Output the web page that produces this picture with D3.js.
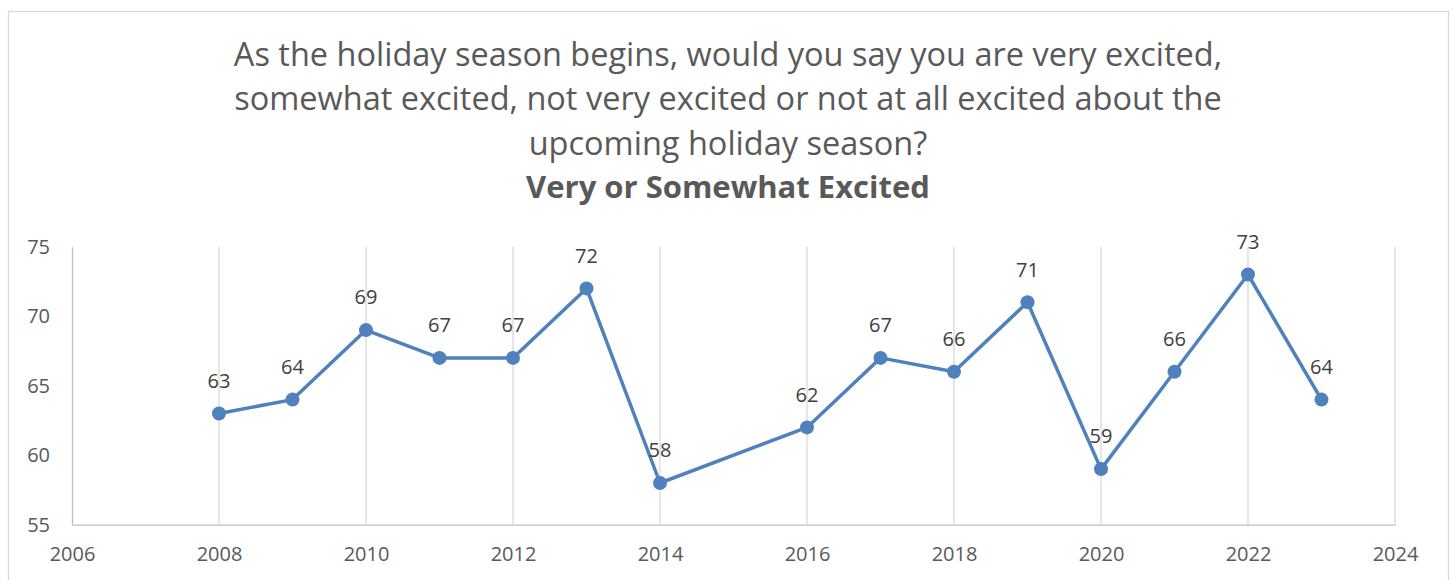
<!DOCTYPE html>
<html>
<head>
<meta charset="utf-8">
<script src="https://cdn.jsdelivr.net/npm/d3@7"></script>
<style>
  body { margin: 0; background: #fff; }
  svg { display: block; }
</style>
</head>
<body>
<div id="chart"></div>
<script>
var years = [2008, 2009, 2010, 2011, 2012, 2013, 2014, 2016, 2017, 2018, 2019, 2020, 2021, 2022, 2023];
var excited = [63, 64, 69, 67, 67, 72, 58, 62, 67, 66, 71, 59, 66, 73, 64];
var xTicks = [2006, 2008, 2010, 2012, 2014, 2016, 2018, 2020, 2022, 2024];
var yTicks = [55, 60, 65, 70, 75];
var titleLines = [
    "As the holiday season begins, would you say you are very excited,",
    "somewhat excited, not very excited or not at all excited about the",
    "upcoming holiday season?"
];
var subtitle = "Very or Somewhat Excited";

const width = 1453, height = 580;
const font = "'Open Sans', 'Noto Sans', sans-serif";
const margin = {top: 246.7, left: 72, right: 58, bottom: 55.3};

var svg = d3.select('#chart').append('svg')
    .attr('width', width)
    .attr('height', height);

// chart border
svg.append('rect')
    .attr('x', 8.5).attr('y', 11.5)
    .attr('width', 1440).attr('height', 600)
    .attr('fill', 'none')
    .attr('stroke', '#d9d9d9')
    .attr('stroke-width', 1.3);

// title
titleLines.forEach(function(t, i){
    svg.append('text')
        .attr('x', 728)
        .attr('y', 57 + 44.5*i)
        .attr('text-anchor', 'middle')
        .attr('dominant-baseline', 'middle')
        .attr('font-family', font)
        .attr('font-size', '32.5px')
        .attr('fill', '#595959')
        .text(t);
});
svg.append('text')
    .attr('x', 728)
    .attr('y', 190)
    .attr('text-anchor', 'middle')
    .attr('dominant-baseline', 'middle')
    .attr('font-family', font)
    .attr('font-size', '31px')
    .attr('font-weight', 'bold')
    .attr('fill', '#595959')
    .text(subtitle);

const x = d3.scaleLinear().domain([2006, 2024]).range([margin.left, width - margin.right]);
const y = d3.scaleLinear().domain([55, 75]).range([height - margin.bottom, margin.top]);

// vertical gridlines
svg.append('g').selectAll('line')
    .data(xTicks.slice(1))
    .enter().append('line')
    .attr('x1', d => x(d)).attr('x2', d => x(d))
    .attr('y1', y(75)).attr('y2', y(55))
    .attr('stroke', '#d9d9d9')
    .attr('stroke-width', 1.3);

// axes
var xAxis = svg.append('g')
    .attr('transform', 'translate(0,' + y(55) + ')')
    .call(d3.axisBottom(x).tickValues(xTicks).tickFormat(d3.format('d')).tickSize(0).tickPadding(22));
var yAxis = svg.append('g')
    .attr('transform', 'translate(' + x(2006) + ',0)')
    .call(d3.axisLeft(y).tickValues(yTicks).tickSize(0).tickPadding(22));

[xAxis, yAxis].forEach(function(a){
    a.select('.domain').attr('stroke', '#bfbfbf').attr('stroke-width', 1.3);
    a.selectAll('text')
        .attr('font-family', font)
        .attr('font-size', '20px')
        .attr('fill', '#595959');
});

var pts = years.map((d, i) => [d, excited[i]]);

// line
svg.append('path')
    .datum(pts)
    .attr('d', d3.line().x(d => x(d[0])).y(d => y(d[1])))
    .attr('fill', 'none')
    .attr('stroke', '#4f81bd')
    .attr('stroke-width', 3.5)
    .attr('stroke-linejoin', 'round');

svg.append('g').selectAll('circle')
    .data(pts)
    .enter().append('circle')
    .attr('cx', d => x(d[0]))
    .attr('cy', d => y(d[1]))
    .attr('r', 7)
    .attr('fill', '#4f81bd');

// data labels
svg.append('g').selectAll('text')
    .data(pts)
    .enter().append('text')
    .attr('x', d => x(d[0]))
    .attr('y', d => y(d[1]) - 31)
    .attr('text-anchor', 'middle')
    .attr('dominant-baseline', 'middle')
    .attr('font-family', font)
    .attr('font-size', '20px')
    .attr('fill', '#404040')
    .text(d => d[1]);
</script>
</body>
</html>
